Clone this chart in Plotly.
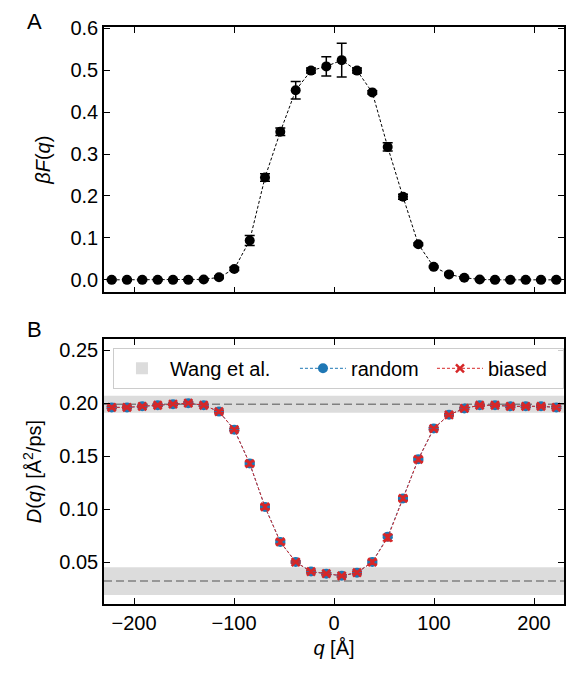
import plotly.graph_objects as go
from plotly.subplots import make_subplots

# bin centres along q [Å]
q = [-222.3, -207.0, -191.7, -176.3, -161.0, -145.7, -130.3, -115.0, -99.7, -84.3,
     -69.0, -53.7, -38.3, -23.0, -7.7, 7.7, 23.0, 38.3, 53.7, 69.0,
     84.3, 99.7, 115.0, 130.3, 145.7, 161.0, 176.3, 191.7, 207.0, 222.3]

# free energy profile
betaF = [0.000, 0.000, 0.000, 0.000, 0.000, 0.000, 0.001, 0.006, 0.026, 0.094,
         0.244, 0.353, 0.452, 0.499, 0.509, 0.524, 0.499, 0.447, 0.317, 0.198,
         0.085, 0.031, 0.013, 0.005, 0.001, 0.000, 0.000, 0.000, 0.000, 0.000]
betaF_err = [0.002, 0.002, 0.002, 0.002, 0.002, 0.002, 0.002, 0.003, 0.004, 0.012,
             0.009, 0.009, 0.021, 0.006, 0.023, 0.040, 0.006, 0.004, 0.010, 0.006,
             0.003, 0.002, 0.002, 0.002, 0.002, 0.002, 0.002, 0.002, 0.002, 0.002]

# diffusion profiles
D_random = [0.196, 0.196, 0.197, 0.198, 0.199, 0.200, 0.198, 0.192, 0.175, 0.143,
            0.102, 0.069, 0.050, 0.041, 0.039, 0.037, 0.040, 0.050, 0.074, 0.110,
            0.147, 0.176, 0.189, 0.195, 0.198, 0.198, 0.197, 0.197, 0.197, 0.196]
D_random_err = [0.001] * 30
D_biased = [0.196, 0.196, 0.197, 0.198, 0.199, 0.200, 0.198, 0.192, 0.175, 0.143,
            0.102, 0.069, 0.050, 0.041, 0.039, 0.037, 0.040, 0.050, 0.073, 0.110,
            0.147, 0.176, 0.189, 0.195, 0.198, 0.198, 0.197, 0.197, 0.197, 0.196]
D_biased_err = [0.001, 0.001, 0.001, 0.001, 0.001, 0.001, 0.001, 0.001, 0.001, 0.002,
                0.002, 0.002, 0.001, 0.001, 0.001, 0.001, 0.001, 0.002, 0.003, 0.002,
                0.002, 0.001, 0.001, 0.001, 0.001, 0.001, 0.001, 0.001, 0.001, 0.001]

# reference values (Wang et al.): mean and spread
wang_mean = [0.199, 0.032]
wang_err = [0.008, 0.013]

FONT = "Liberation Sans, Arial, sans-serif"
BLUE = "#1f77b4"
RED = "#d62728"
FS = 20

fig = make_subplots(rows=2, cols=1)

fig.add_trace(go.Scatter(
    x=q, y=betaF, mode="lines+markers", showlegend=False,
    line=dict(color="black", width=1, dash="3px,2px"),
    marker=dict(color="black", size=10),
    error_y=dict(type="data", array=betaF_err, color="black", thickness=1.5, width=5),
), row=1, col=1)

fig.add_trace(go.Scatter(
    x=q, y=D_random, mode="lines+markers", name="random", legendwidth=76,
    line=dict(color=BLUE, width=1, dash="3px,2px"),
    marker=dict(color=BLUE, size=10),
    error_y=dict(type="data", array=D_random_err, color=BLUE, thickness=1.5, width=5),
), row=2, col=1)

fig.add_trace(go.Scatter(
    x=q, y=D_biased, mode="lines+markers", name="biased", legendwidth=70,
    line=dict(color=RED, width=1, dash="3px,2px"),
    marker=dict(color=RED, size=8, symbol="x-thin", line=dict(color=RED, width=2.5)),
    error_y=dict(type="data", array=D_biased_err, color=RED, thickness=1.5, width=5),
), row=2, col=1)

for i, (m, e) in enumerate(zip(wang_mean, wang_err)):
    fig.add_shape(type="rect", xref="x2 domain", yref="y2", x0=0, x1=1,
                  y0=m - e, y1=m + e, fillcolor="#dcdcdc", line=dict(width=0),
                  layer="below", name="Wang et al.", showlegend=(i == 0),
                  legendrank=1, legendwidth=120)
    fig.add_shape(type="line", xref="x2 domain", yref="y2", x0=0, x1=1,
                  y0=m, y1=m, line=dict(color="#808080", width=1.5, dash="8px,4px"),
                  layer="below")

axis_style = dict(showline=True, linecolor="black", linewidth=1.5, mirror="allticks",
                  ticks="inside", ticklen=6, tickwidth=1.3, tickcolor="black",
                  showgrid=False, zeroline=False,
                  tickfont=dict(family=FONT, size=FS, color="black"))
title_font = dict(family=FONT, size=FS, color="black")

fig.update_xaxes(axis_style, range=[-230, 230], tickvals=[-200, -100, 0, 100, 200])
fig.update_xaxes(showticklabels=False, domain=[0, 1], row=1, col=1)
fig.update_xaxes(title=dict(text="<i>q</i> [Å]", font=title_font, standoff=8),
                 matches="x", row=2, col=1)

fig.update_yaxes(axis_style)
fig.update_yaxes(range=[-0.03, 0.603], tickvals=[0, 0.1, 0.2, 0.3, 0.4, 0.5, 0.6],
                 tickformat=".1f", domain=[0.54, 1],
                 title=dict(text="<i>βF</i>(<i>q</i>)", font=title_font, standoff=14),
                 row=1, col=1)
fig.update_yaxes(range=[0.0104, 0.2604], tickvals=[0.05, 0.10, 0.15, 0.20, 0.25],
                 tickformat=".2f", domain=[0, 0.459],
                 title=dict(text="<i>D</i>(<i>q</i>) [Å<sup>2</sup>/ps]", font=title_font, standoff=12),
                 row=2, col=1)

fig.add_annotation(text="A", xref="paper", yref="paper", x=-0.152, y=1.010,
                   xanchor="center", yanchor="middle",
                   showarrow=False, font=dict(family=FONT, size=22, color="black"))
fig.add_annotation(text="B", xref="paper", yref="paper", x=-0.152, y=0.475,
                   xanchor="center", yanchor="middle",
                   showarrow=False, font=dict(family=FONT, size=22, color="black"))

# the page body adds an 8px offset, so the figure is drawn 8px smaller
fig.update_layout(
    width=566, height=667,
    margin=dict(l=96, r=8, t=19, b=71),
    paper_bgcolor="white", plot_bgcolor="white",
    font=dict(family=FONT, size=FS, color="black"),
    legend=dict(orientation="h", x=0.0195, y=0.444, xanchor="left", yanchor="top",
                bgcolor="rgba(255,255,255,0.8)", bordercolor="#cccccc", borderwidth=1,
                font=dict(family=FONT, size=FS, color="black"), itemwidth=46),
)

fig.write_html("out.html")
